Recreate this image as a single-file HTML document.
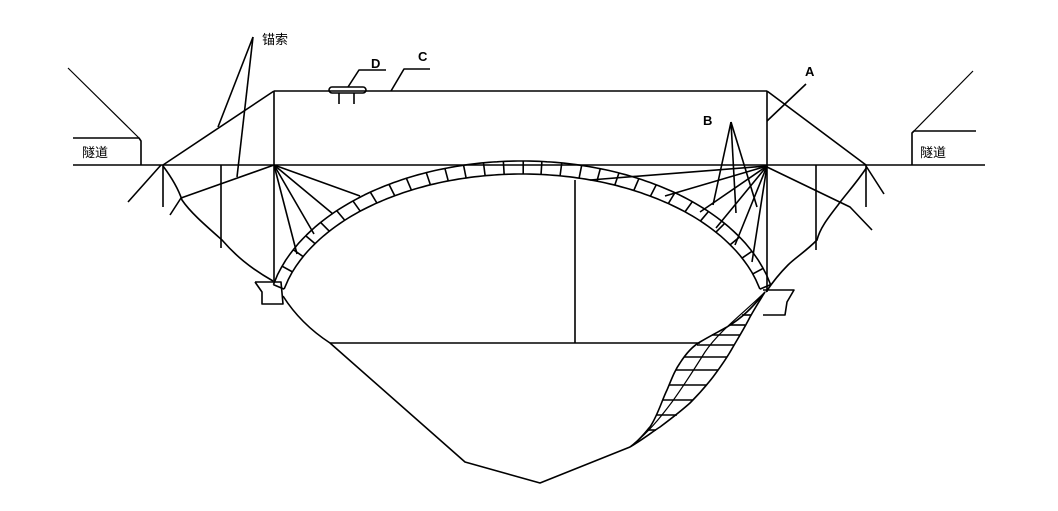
<!DOCTYPE html>
<html><head><meta charset="utf-8"><style>
html,body{margin:0;padding:0;background:#fff;}
svg{display:block;}
text{font-family:"Liberation Sans","Noto Sans CJK SC",sans-serif;fill:#000;}
</style></head><body>
<svg id="s" width="1058" height="511" viewBox="0 0 1058 511" xmlns="http://www.w3.org/2000/svg">
<g fill="none" stroke="#000" stroke-width="1.6" stroke-linejoin="round" id="g">
<line x1="73" y1="165" x2="985" y2="165"/>
<polyline points="73,138 139,138 141,141 141,165"/>
<line x1="68" y1="68" x2="139" y2="138" stroke-width="1.2"/>
<polyline points="912,165 912,133 914,131 976,131"/>
<line x1="914" y1="131" x2="973" y2="71" stroke-width="1.2"/>
<line x1="274" y1="91" x2="767" y2="91"/>
<line x1="274" y1="91" x2="274" y2="282"/>
<line x1="767" y1="91" x2="767" y2="292"/>
<line x1="274" y1="91" x2="163" y2="165"/>
<line x1="767" y1="91" x2="866" y2="165"/>
<rect x="329" y="87" width="37" height="6" rx="3"/>
<line x1="339" y1="93" x2="339" y2="104"/>
<line x1="354" y1="93" x2="354" y2="104"/>
<polyline points="348,87 359,70 386,70"/>
<polyline points="391,91 404,69 430,69"/>
<line x1="767" y1="121" x2="806" y2="84"/>
<line x1="731" y1="122" x2="713" y2="205"/>
<line x1="731" y1="122" x2="736" y2="213"/>
<line x1="731" y1="122" x2="757" y2="207"/>
<line x1="253" y1="37" x2="218" y2="127"/>
<line x1="253" y1="37" x2="237" y2="177"/>
<line x1="128" y1="202" x2="161" y2="165"/>
<line x1="163" y1="165" x2="163" y2="207"/>
<path d="M163,166 C172,178 178,188 182,200 C190,212 205,225 222,240 C235,255 250,268 273,281"/>
<line x1="170" y1="215" x2="181" y2="198"/>
<line x1="181" y1="198" x2="274" y2="165"/>
<line x1="221" y1="165" x2="221" y2="248"/>
<line x1="274" y1="165" x2="360" y2="196"/>
<line x1="274" y1="165" x2="333" y2="214"/>
<line x1="274" y1="165" x2="314" y2="234"/>
<line x1="274" y1="165" x2="297" y2="254"/>
<polyline points="255,282 281,282 283,304 262,304 262,292 255,282"/>
<line x1="767" y1="166" x2="590" y2="180"/>
<line x1="767" y1="166" x2="665" y2="196"/>
<line x1="767" y1="166" x2="700" y2="212"/>
<line x1="767" y1="166" x2="716" y2="228"/>
<line x1="767" y1="166" x2="735" y2="245"/>
<line x1="767" y1="166" x2="752" y2="262"/>
<polyline points="767,167 850,207 872,230"/>
<line x1="816" y1="165" x2="816" y2="250"/>
<line x1="866" y1="165" x2="866" y2="207"/>
<line x1="866" y1="166" x2="884" y2="194"/>
<path d="M867,167 C855,185 845,195 838,205 C828,218 820,228 817,240 C805,252 795,258 788,265 C778,275 772,283 766,292"/>
<polyline points="763,290 794,290 787,302 785,315 763,315"/>
<line x1="575" y1="180" x2="575" y2="343"/>
<line x1="330" y1="343" x2="700" y2="343"/>
<path d="M283,296 C295,315 310,330 330,343 L465,462 L540,483 L630,447"/>
<path d="M630,447 C640,440 647,430 650,427 C658,415 662,400 667,390 C672,378 675,370 680,363 C687,352 693,346 700,342 C710,336 718,332 727,327 C742,318 752,308 765,292"/>
<path d="M630,447 C645,438 652,432 660,427 C672,418 680,412 690,403 C700,393 706,386 713,377 C722,365 728,356 733,347 C740,335 745,327 750,317 C755,308 760,300 765,292"/>
<path d="M630,447 C648,433 660,418 672,402 C685,384 695,368 705,352 C720,330 745,312 765,292" stroke-width="1.2"/>
</g>
<text x="262" y="44" font-size="13">锚索</text>
<text x="371" y="68" font-size="13" font-weight="bold">D</text>
<text x="418" y="61" font-size="13" font-weight="bold">C</text>
<text x="805" y="76" font-size="13" font-weight="bold">A</text>
<text x="703" y="125" font-size="13" font-weight="bold">B</text>
<text x="82" y="157" font-size="13">隧道</text>
<text x="920" y="157" font-size="13">隧道</text>
</svg>
<script>
(function(){
var g=document.getElementById('g'),ns='http://www.w3.org/2000/svg';
function f(E,u){return [E.cx+E.a*u,E.cy-E.b*Math.sqrt(Math.max(0,1-u*u))];}
var O={cx:522,cy:320,a:255,b:159},I={cx:522,cy:322,a:244,b:148};
var u0=-0.975,u1=0.975,n=30;
function line(a,b){var l=document.createElementNS(ns,'line');l.setAttribute('x1',a[0]);l.setAttribute('y1',a[1]);l.setAttribute('x2',b[0]);l.setAttribute('y2',b[1]);g.appendChild(l);}
function path(E){var d='';for(var i=0;i<=120;i++){var u=u0+(u1-u0)*i/120;var p=f(E,u);d+=(i?'L':'M')+p[0].toFixed(1)+','+p[1].toFixed(1);}var e=document.createElementNS(ns,'path');e.setAttribute('d',d);g.appendChild(e);}
path(O);path(I);
line(f(O,u0),f(I,u0));line(f(O,u1),f(I,u1));
var pts=[],len=[0];for(var i=0;i<=400;i++){pts.push(u0+(u1-u0)*i/400);}
var P=pts.map(function(u){return f(O,u);});
for(var i=1;i<P.length;i++){len.push(len[i-1]+Math.hypot(P[i][0]-P[i-1][0],P[i][1]-P[i-1][1]));}
var T=len[len.length-1];
for(var k=1;k<n;k++){var s=T*k/n,j=0;while(len[j]<s)j++;var u=pts[j];line(f(O,u),f(I,u));}
var L=[[647,430,656,430],[656,415,677,415],[663,400,693,400],[669,385,706,385],[676,370,718,370],[684,357,727,357],[697,345,734,345],[712,335,740,335],[730,325,745,325],[742,315,751,315]];
L.forEach(function(r){line([r[0],r[1]],[r[2],r[3]]);});
})();
</script>
</body></html>
